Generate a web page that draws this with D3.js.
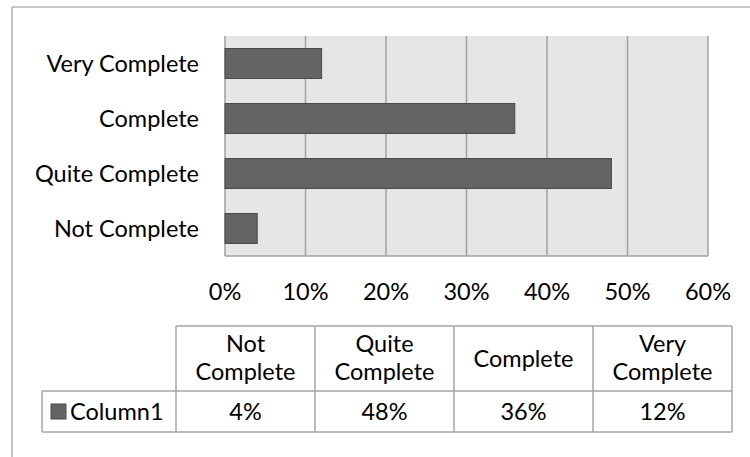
<!DOCTYPE html>
<html lang="en">
<head>
  <meta charset="UTF-8">
  <title>Completeness</title>
  <script src="https://d3js.org/d3.v7.min.js"></script>
  <style>
    body { margin: 0; background: white; }
    svg { display: block; }
    text { font-family: Lato, "Open Sans", sans-serif; font-size: 23.5px; fill: #000; }
  </style>
</head>
<body>
  <svg id="chart" width="750" height="457"></svg>

  <script>
    const categories = ["Not Complete", "Quite Complete", "Complete", "Very Complete"];
    const values = [0.04, 0.48, 0.36, 0.12];
    const seriesName = "Column1";
    const ticks = [0, 0.1, 0.2, 0.3, 0.4, 0.5, 0.6];

    const svg = d3.select("#chart");

    // outer chart border (only top and left visible)
    svg.append("line").attr("x1", 12).attr("y1", 7).attr("x2", 750).attr("y2", 7)
      .attr("stroke", "#b3b3b3").attr("stroke-width", 1.5);
    svg.append("line").attr("x1", 12).attr("y1", 7).attr("x2", 12).attr("y2", 457)
      .attr("stroke", "#b3b3b3").attr("stroke-width", 1.5);

    const plot = { left: 225, right: 708, top: 36, bottom: 256 };

    const x = d3.scaleLinear().domain([0, 0.6]).range([plot.left, plot.right]);
    const y = d3.scaleBand().domain(categories.slice().reverse())
      .range([plot.top, plot.bottom]).paddingInner(0.455).paddingOuter(0.2275);

    svg.append("rect")
      .attr("x", plot.left).attr("y", plot.top)
      .attr("width", plot.right - plot.left).attr("height", plot.bottom - plot.top)
      .attr("fill", "#e6e6e6");

    svg.append("g").selectAll("line").data(ticks).join("line")
      .attr("x1", d => x(d)).attr("x2", d => x(d))
      .attr("y1", plot.top).attr("y2", plot.bottom)
      .attr("stroke", "#a0a0a0").attr("stroke-width", 1.5);

    svg.append("line")
      .attr("x1", plot.left).attr("x2", plot.right)
      .attr("y1", plot.bottom).attr("y2", plot.bottom)
      .attr("stroke", "#a0a0a0").attr("stroke-width", 1.5);

    svg.append("g").selectAll("rect").data(categories).join("rect")
      .attr("x", x(0))
      .attr("y", d => y(d))
      .attr("width", (d, i) => x(values[i]) - x(0))
      .attr("height", y.bandwidth())
      .attr("fill", "#646464")
      .attr("stroke", "#4a4a4a").attr("stroke-width", 1);

    // category labels
    svg.append("g").selectAll("text").data(categories).join("text")
      .attr("x", 199)
      .attr("y", d => y(d) + y.bandwidth() / 2)
      .attr("dy", "0.35em")
      .attr("text-anchor", "end")
      .text(d => d);

    // value axis labels
    svg.append("g").selectAll("text").data(ticks).join("text")
      .attr("x", d => x(d))
      .attr("y", 292)
      .attr("dy", "0.35em")
      .attr("text-anchor", "middle")
      .text(d => d3.format(".0%")(d));

    // data table
    const tbl = { left: 176, right: 732, top: 326, mid: 391, bottom: 432, rowLeft: 42 };
    const cx = d3.scaleBand().domain(categories).range([tbl.left, tbl.right]);
    const stroke = "#a6a6a6";
    const t = svg.append("g");

    t.append("line").attr("x1", tbl.left).attr("x2", tbl.right).attr("y1", tbl.top).attr("y2", tbl.top).attr("stroke", stroke).attr("stroke-width", 1.5);
    t.append("line").attr("x1", tbl.rowLeft).attr("x2", tbl.right).attr("y1", tbl.mid).attr("y2", tbl.mid).attr("stroke", stroke).attr("stroke-width", 1.5);
    t.append("line").attr("x1", tbl.rowLeft).attr("x2", tbl.right).attr("y1", tbl.bottom).attr("y2", tbl.bottom).attr("stroke", stroke).attr("stroke-width", 1.5);
    t.append("line").attr("x1", tbl.rowLeft).attr("x2", tbl.rowLeft).attr("y1", tbl.mid).attr("y2", tbl.bottom).attr("stroke", stroke).attr("stroke-width", 1.5);
    t.selectAll("line.col").data(categories.concat(["end"])).join("line").attr("class", "col")
      .attr("x1", (d, i) => tbl.left + i * cx.bandwidth())
      .attr("x2", (d, i) => tbl.left + i * cx.bandwidth())
      .attr("y1", tbl.top).attr("y2", tbl.bottom)
      .attr("stroke", stroke).attr("stroke-width", 1.5);

    // header cells: two-word names go on two lines
    categories.forEach(c => {
      const words = c.split(" ");
      const cxm = cx(c) + cx.bandwidth() / 2;
      if (words.length === 1) {
        t.append("text").attr("x", cxm).attr("y", (tbl.top + tbl.mid) / 2)
          .attr("dy", "0.35em").attr("text-anchor", "middle").text(c);
      } else {
        words.forEach((w, j) => {
          t.append("text").attr("x", cxm).attr("y", tbl.top + 18 + j * 28)
            .attr("dy", "0.35em").attr("text-anchor", "middle").text(w);
        });
      }
    });

    const rowY = (tbl.mid + tbl.bottom) / 2;
    t.selectAll("text.val").data(categories).join("text").attr("class", "val")
      .attr("x", d => cx(d) + cx.bandwidth() / 2)
      .attr("y", rowY).attr("dy", "0.35em").attr("text-anchor", "middle")
      .text((d, i) => d3.format(".0%")(values[i]));

    t.append("rect").attr("x", 51).attr("y", rowY - 7.5).attr("width", 15).attr("height", 15)
      .attr("fill", "#646464").attr("stroke", "#4a4a4a");
    t.append("text").attr("x", 70).attr("y", rowY).attr("dy", "0.35em").text(seriesName);
  </script>
</body>
</html>
